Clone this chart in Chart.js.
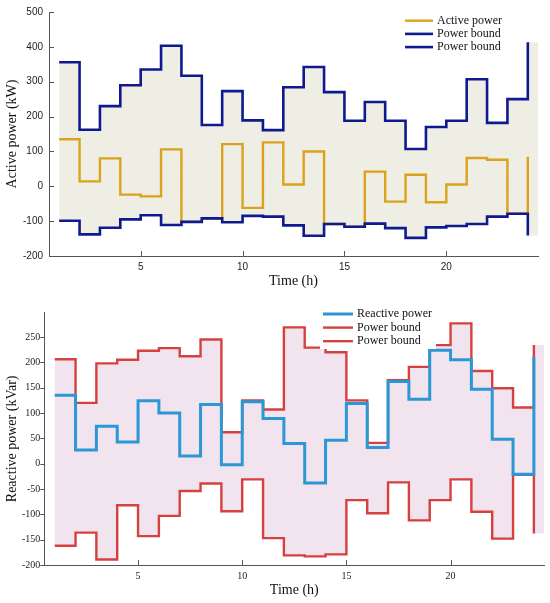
<!DOCTYPE html>
<html lang="en">
<head>
  <meta charset="UTF-8" />
  <title>Active and reactive power with bounds</title>
  <script src="https://cdn.jsdelivr.net/npm/chart.js"></script>
  <style>
    * { box-sizing: border-box; }

    html, body {
      margin: 0;
      padding: 0;
      background: #fff;
      overflow: hidden;
    }

    .chart-box {
      position: relative;
      width: 550px;
    }

    #topBox { height: 295px; }
    #bottomBox { height: 308px; }
  </style>
</head>
<body>

  <!-- Active power -->
  <div class="chart-box" id="topBox">
    <canvas id="activeChart"></canvas>
  </div>

  <!-- Reactive power -->
  <div class="chart-box" id="bottomBox">
    <canvas id="reactiveChart"></canvas>
  </div>

  <script>
    // Hours and tick marks
    const hours = [1, 2, 3, 4, 5, 6, 7, 8, 9, 10, 11, 12, 13, 14, 15, 16, 17, 18, 19, 20, 21, 22, 23, 24];
    const xTicks = [5, 10, 15, 20];
    const activeTicks = [-200, -100, 0, 100, 200, 300, 400, 500];
    const reactiveTicks = [-200, -150, -100, -50, 0, 50, 100, 150, 200, 250];

    // Active power (kW)
    const activePower = [135, 14, 80, -24, -29, 106, -102, -92, 121, -62, 126, 5, 100, -108, -116, 42, -44, 33, -46, 5, 81, 76, -79, 85];
    const activeUpper = [356, 162, 230, 290, 335, 403, 317, 176, 273, 189, 161, 284, 342, 270, 188, 242, 188, 107, 170, 188, 307, 182, 250, 413];
    const activeLower = [-99, -138, -119, -95, -83, -111, -102, -92, -103, -85, -87, -112, -142, -108, -116, -107, -120, -148, -118, -114, -108, -87, -79, -141];

    // Reactive power (kVar)
    const reactivePower = [135, 27, 74, 43, 124, 100, 15, 117, -2, 122, 89, 40, -38, 46, 119, 32, 162, 127, 224, 205, 147, 48, -21, 211];
    const reactiveUpper = [206, 120, 198, 205, 223, 228, 212, 245, 62, 125, 107, 269, 229, 220, 125, 41, 165, 191, 234, 277, 183, 149, 111, 234];
    const reactiveLower = [-162, -136, -189, -82, -143, -103, -54, -39, -94, -31, -147, -181, -183, -179, -72, -98, -37, -112, -72, -31, -95, -148, -22, -138];

    const xMin = 0.5;
    const xMax = 24.5;

    const serif = '"Liberation Serif", "Times New Roman", serif';
    const sans = '"Liberation Sans", Arial, sans-serif';

    function toPoints(values) {
      return hours.map((h, i) => ({ x: h, y: values[i] }));
    }

    // shaded band carries the last value on to the right edge of the axes
    function toBand(values) {
      const pts = toPoints(values);
      pts.push({ x: xMax, y: values[values.length - 1] });
      return pts;
    }

    // 'before' in Chart.js = hold the value until the next hour (like stairs)
    function stairs(label, values, color, width, order) {
      return {
        label: label,
        data: toPoints(values),
        borderColor: color,
        borderWidth: width,
        stepped: 'before',
        pointRadius: 0,
        fill: false,
        order: order,
        inLegend: true
      };
    }

    function band(values, color, fillTarget, order) {
      return {
        label: 'band',
        data: toBand(values),
        borderColor: 'transparent',
        borderWidth: 0,
        backgroundColor: color,
        stepped: 'before',
        pointRadius: 0,
        fill: fillTarget,
        order: order
      };
    }

    // Small tick marks on the axes (in = positive, out = negative)
    const axisTicks = {
      id: 'axisTicks',
      afterDraw(chart, args, opts) {
        const { ctx, chartArea, scales } = chart;
        ctx.save();
        ctx.strokeStyle = '#555';
        ctx.lineWidth = 1;
        ctx.beginPath();
        scales.x.ticks.forEach(t => {
          const px = Math.round(scales.x.getPixelForValue(t.value)) + 0.5;
          ctx.moveTo(px, chartArea.bottom);
          ctx.lineTo(px, chartArea.bottom - opts.x);
        });
        scales.y.ticks.forEach(t => {
          const py = Math.round(scales.y.getPixelForValue(t.value)) + 0.5;
          ctx.moveTo(chartArea.left, py);
          ctx.lineTo(chartArea.left + opts.y, py);
        });
        ctx.stroke();
        ctx.restore();
      }
    };

    // Legend drawn inside the plot on a white box
    const boxLegend = {
      id: 'boxLegend',
      afterDatasetsDraw(chart, args, opts) {
        const ctx = chart.ctx;
        const items = chart.data.datasets.filter(d => d.inLegend);
        ctx.save();
        ctx.fillStyle = '#fff';
        ctx.fillRect(opts.box[0], opts.box[1], opts.box[2], opts.box[3]);
        ctx.font = '12px ' + serif;
        ctx.textBaseline = 'middle';
        items.forEach((d, i) => {
          const y = opts.y + i * opts.rowGap;
          ctx.strokeStyle = d.borderColor;
          ctx.lineWidth = d.borderWidth;
          ctx.beginPath();
          ctx.moveTo(opts.x, y);
          ctx.lineTo(opts.x + opts.lineLen, y);
          ctx.stroke();
          ctx.fillStyle = '#111';
          ctx.fillText(d.label, opts.x + opts.lineLen + 4, y);
        });
        ctx.restore();
      }
    };

    function makeOptions(cfg) {
      return {
        responsive: true,
        maintainAspectRatio: false,
        animation: false,
        layout: { padding: cfg.padding },
        plugins: {
          legend: { display: false },
          tooltip: { enabled: false },
          filler: { drawTime: 'beforeDatasetsDraw' },
          axisTicks: cfg.ticks,
          boxLegend: cfg.legend
        },
        scales: {
          x: {
            type: 'linear',
            min: xMin,
            max: xMax,
            grid: { display: false, drawTicks: false },
            border: { display: true, color: '#555', width: 1 },
            ticks: { font: { family: cfg.tickFont, size: 10 }, color: '#222', padding: 5, maxRotation: 0 },
            afterBuildTicks: s => { s.ticks = xTicks.map(v => ({ value: v })); },
            afterFit: s => { s.height = cfg.xHeight; },
            title: {
              display: true,
              text: 'Time (h)',
              color: '#111',
              font: { family: serif, size: 14 },
              padding: { top: 0, bottom: cfg.xTitlePad }
            }
          },
          y: {
            type: 'linear',
            min: cfg.yMin,
            max: cfg.yMax,
            grid: { display: false, drawTicks: false },
            border: { display: true, color: '#555', width: 1 },
            ticks: { font: { family: cfg.tickFont, size: 10 }, color: '#222', padding: cfg.yPad },
            afterBuildTicks: s => { s.ticks = cfg.yTicks.map(v => ({ value: v })); },
            afterFit: s => { s.width = cfg.yWidth; },
            title: {
              display: true,
              text: cfg.yTitle,
              color: '#111',
              font: { family: serif, size: 14 },
              padding: { top: 4, bottom: 0 }
            }
          }
        }
      };
    }

    // Active power chart
    new Chart(document.getElementById('activeChart'), {
      type: 'line',
      data: {
        datasets: [
          stairs('Active power', activePower, '#DBA21C', 2.4, 2),
          stairs('Power bound', activeUpper, '#0E1A8E', 2.6, 1),
          stairs('Power bound', activeLower, '#0E1A8E', 2.6, 1),
          band(activeLower, 'transparent', false, 4),
          band(activeUpper, '#EFEEE5', 3, 3)
        ]
      },
      options: makeOptions({
        padding: { top: 10, right: 12, left: 0, bottom: 0 },
        xHeight: 39,
        xTitlePad: 5.5,
        yWidth: 49,
        yPad: 6,
        yMin: -200,
        yMax: 500,
        yTicks: activeTicks,
        yTitle: 'Active power (kW)',
        tickFont: sans,
        ticks: { x: 5, y: 5 },
        legend: { box: [400, 12, 106, 43], x: 405, y: 20.7, rowGap: 13.2, lineLen: 28 }
      }),
      plugins: [axisTicks, boxLegend]
    });

    // Reactive power chart
    new Chart(document.getElementById('reactiveChart'), {
      type: 'line',
      data: {
        datasets: [
          stairs('Reactive power', reactivePower, '#2B97D4', 3, 1),
          stairs('Power bound', reactiveUpper, '#D6403F', 2.4, 2),
          stairs('Power bound', reactiveLower, '#D6403F', 2.4, 2),
          band(reactiveLower, 'transparent', false, 4),
          band(reactiveUpper, '#F1E4EF', 3, 3)
        ]
      },
      options: makeOptions({
        padding: { top: 17.7, right: 5.7, left: 0, bottom: 0 },
        xHeight: 38,
        xTitlePad: 4.6,
        yWidth: 44.3,
        yPad: 4,
        yMin: -200,
        yMax: 298,
        yTicks: reactiveTicks,
        yTitle: 'Reactive power (kVar)',
        tickFont: serif,
        ticks: { x: 5, y: -4 },
        legend: { box: [320, 9, 116, 45], x: 323, y: 19, rowGap: 13.6, lineLen: 30 }
      }),
      plugins: [axisTicks, boxLegend]
    });
  </script>
</body>
</html>
